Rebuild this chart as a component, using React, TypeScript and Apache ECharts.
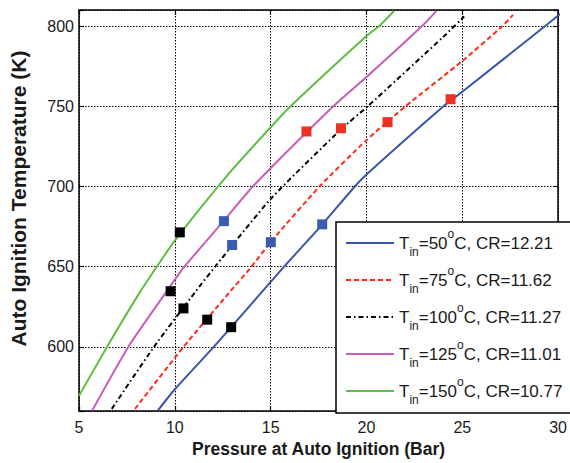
import React, { useEffect, useRef } from 'react';
import * as echarts from 'echarts';

// ---- data ----
const inletTemps = ['50', '75', '100', '125', '150'];
const compressionRatios = ['12.21', '11.62', '11.27', '11.01', '10.77'];
const seriesNames = inletTemps.map((t, i) => `Tin=${t}°C, CR=${compressionRatios[i]}`);
const seriesColors = ['#3a55a6', '#ff2b1c', '#000000', '#c45fb6', '#5ebd44'];
const seriesDash: any[] = ['solid', [5, 3], [5, 3, 1.5, 3], 'solid', 'solid'];

// simulated curves: [pressure (bar), temperature (K)]
const curve50 = [[9.12, 560.4], [10, 573.6], [12.03, 600], [12.94, 612.3], [15.7, 650], [17.7, 676.4], [19.39, 700], [20, 707.5], [24.02, 750], [25, 759.1], [29.33, 800], [30.1, 807.5]];
const curve75 = [[7.92, 561.4], [10.45, 600], [12.85, 634], [14, 650], [15, 665.3], [17.55, 700], [20, 728.9], [22.04, 750], [25, 778.2], [27.1, 800], [27.65, 807]];
const curve100 = [[6.71, 561.4], [8.91, 600], [11.05, 634], [12.1, 650], [15.03, 692.6], [18.7, 735.9], [20.07, 750], [24.02, 793.4], [25.1, 806]];
const curve125 = [[5.69, 560.4], [7.57, 600], [9.54, 634], [10.5, 650], [12.54, 678.4], [14.07, 700], [18.27, 750], [20, 768.2], [22.9, 800], [23.65, 809.5]];
const curve150 = [[5, 569.5], [6.46, 600], [8.17, 634], [9.06, 650], [10, 666.3], [12.72, 706.6], [15, 736.9], [16.04, 750], [20, 793.8], [20.67, 800], [21.45, 809.5]];
const curves = [curve50, curve75, curve100, curve125, curve150];

// measured points (square markers)
const blackPoints = [[9.78, 634.7], [10.26, 671.4], [10.45, 624], [11.69, 617], [12.94, 612.3]];
const bluePoints = [[12.56, 678.4], [12.99, 663.5], [15.01, 665.3], [17.69, 676.4]];
const redPoints = [[16.87, 734.3], [18.67, 736.3], [21.1, 740.1], [24.39, 754.4]];

const xMin = 5, xMax = 30, xStep = 5;
const yMin = 560, yMax = 810, yLabelStep = 50;

const FONT = 'Arial, "Liberation Sans", Helvetica, sans-serif';
const TXT = '#1a1a1a';

export default function App() {
  const ref = useRef<HTMLDivElement>(null);
  useEffect(() => {
    if (!ref.current) return;
    const chart = echarts.init(ref.current, undefined, { renderer: 'svg' });

    const lineSeries = curves.map((c, i) => ({
      name: seriesNames[i],
      type: 'line',
      data: c,
      showSymbol: false,
      symbol: 'none',
      smooth: 0.2,
      clip: true,
      z: 3,
      lineStyle: { color: seriesColors[i], width: 2, type: seriesDash[i] },
      itemStyle: { color: seriesColors[i] },
    }));

    const scatter = (name: string, data: number[][], color: string) => ({
      name,
      type: 'scatter',
      data,
      symbol: 'rect',
      symbolSize: 10,
      z: 5,
      itemStyle: { color, opacity: 1 },
    });

    const legendFmt = (name: string) => {
      const i = seriesNames.indexOf(name);
      return `{m|T}{s|in}{m|=${inletTemps[i]}}{p|o}{m|C, CR=${compressionRatios[i]}}`;
    };

    const axisLine = { show: true, lineStyle: { color: '#000', width: 1.5 } };
    const tick = { show: true, inside: true, length: 5, lineStyle: { color: '#000', width: 1.2 } };
    const grid = { show: true, lineStyle: { color: '#000', width: 1, type: [1.5, 1.5] } };

    chart.setOption({
      animation: false,
      backgroundColor: '#fff',
      grid: { left: 77, right: 7, top: 10, bottom: 43, containLabel: false },
      legend: {
        data: seriesNames,
        orient: 'vertical',
        left: 336,
        top: 222,
        padding: [6, 12, 7, 9],
        itemGap: 7,
        itemWidth: 48,
        itemHeight: 14,
        backgroundColor: '#fff',
        borderColor: '#000',
        borderWidth: 1.5,
        borderRadius: 0,
        z: 10,
        itemStyle: { opacity: 0 },
        formatter: legendFmt,
        textStyle: {
          fontFamily: FONT,
          fontSize: 17,
          color: TXT,
          lineHeight: 30,
          rich: {
            m: { fontFamily: FONT, fontSize: 17, color: TXT, lineHeight: 30 },
            s: { fontFamily: FONT, fontSize: 12, color: TXT, lineHeight: 8, verticalAlign: 'bottom' },
            p: { fontFamily: FONT, fontSize: 12, color: TXT, lineHeight: 18, verticalAlign: 'top' },
          },
        },
      },
      xAxis: [
        {
          type: 'value',
          min: xMin,
          max: xMax,
          interval: xStep,
          position: 'bottom',
          name: 'Pressure at Auto Ignition (Bar)',
          nameLocation: 'middle',
          nameGap: 25,
          nameTextStyle: { fontFamily: FONT, fontSize: 17.5, fontWeight: 'bold', color: TXT },
          axisLine,
          axisTick: tick,
          axisLabel: { fontFamily: FONT, fontSize: 16, color: TXT, margin: 8 },
          splitLine: grid,
        },
        {
          type: 'value',
          min: xMin,
          max: xMax,
          interval: xStep,
          position: 'top',
          axisLine,
          axisTick: tick,
          axisLabel: { show: false },
          splitLine: { show: false },
        },
      ],
      yAxis: [
        {
          type: 'value',
          min: yMin,
          max: yMax,
          splitNumber: 5,
          position: 'left',
          name: 'Auto Ignition Temperature (K)',
          nameLocation: 'middle',
          nameGap: 50,
          nameTextStyle: { fontFamily: FONT, fontSize: 21, fontWeight: 'bold', color: TXT, padding: [0, 0, 0, 24] },
          axisLine,
          axisTick: tick,
          axisLabel: {
            fontFamily: FONT,
            fontSize: 16,
            color: TXT,
            margin: 5,
            formatter: (v: number) => (v % yLabelStep === 0 ? String(v) : ''),
          },
          splitLine: grid,
        },
        {
          type: 'value',
          min: yMin,
          max: yMax,
          splitNumber: 5,
          position: 'right',
          axisLine,
          axisTick: tick,
          axisLabel: { show: false },
          splitLine: { show: false },
        },
      ],
      series: [
        ...lineSeries,
        scatter('Measured (blue)', bluePoints, '#3a5cb0'),
        scatter('Measured (red)', redPoints, '#ee3124'),
        scatter('Measured (black)', blackPoints, '#000000'),
      ],
    });
    return () => chart.dispose();
  }, []);
  return <div ref={ref} style={{ width: 570, height: 463, position: 'absolute', left: 0, top: 0 }} />;
}
